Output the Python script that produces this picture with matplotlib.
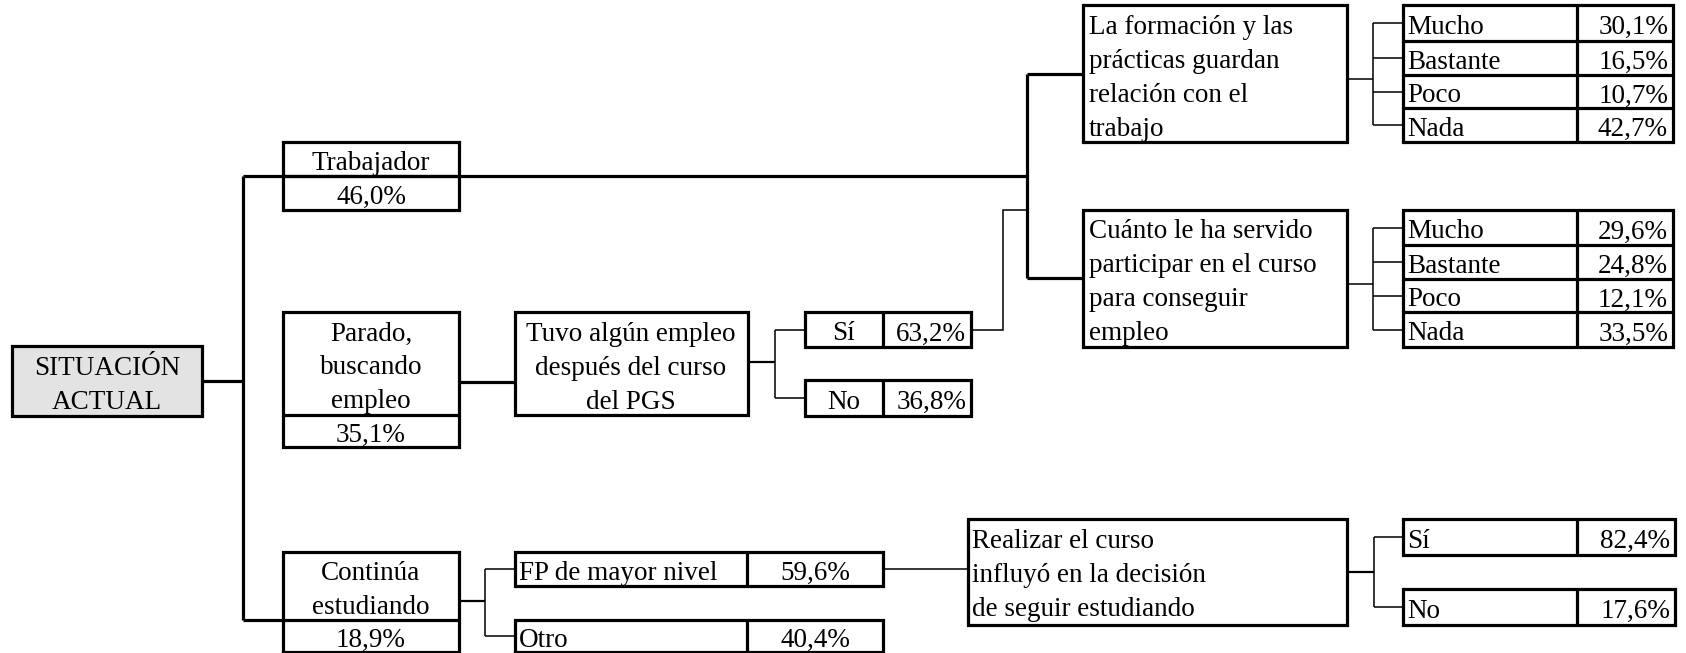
import matplotlib
matplotlib.use("Agg")
import matplotlib.pyplot as plt
from matplotlib.patches import Rectangle

# --- data ---
root_label = "SITUACIÓN\nACTUAL"
situacion_labels = ["Trabajador", "Parado,\nbuscando\nempleo", "Continúa\nestudiando"]
situacion_values = [46.0, 35.1, 18.9]

empleo_question = "Tuvo algún empleo\ndespués del curso\ndel PGS"
empleo_labels = ["Sí", "No"]
empleo_values = [63.2, 36.8]

trabajo_questions = ["La formación y las\nprácticas guardan\nrelación con el\ntrabajo",
                     "Cuánto le ha servido\nparticipar en el curso\npara conseguir\nempleo"]
escala_labels = ["Mucho", "Bastante", "Poco", "Nada"]
relacion_values = [30.1, 16.5, 10.7, 42.7]
servido_values = [29.6, 24.8, 12.1, 33.5]

estudio_labels = ["FP de mayor nivel", "Otro"]
estudio_values = [59.6, 40.4]

influyo_question = "Realizar el curso\ninfluyó en la decisión\nde seguir estudiando"
influyo_labels = ["Sí", "No"]
influyo_values = [82.4, 17.6]

plt.rcParams['font.family'] = ['Liberation Serif', 'DejaVu Serif']

FS = 19.5
THICK = 2.3
MID = 1.6
THIN = 1.1
STEP = 34
DY = 3.5  # text sits a little low in its cell


def pct(v):
    return f"{v:.1f}%".replace(".", ",")


def main():
    fig = plt.figure(figsize=(16.86, 6.539), dpi=100)
    ax = fig.add_axes([0, 0, 1, 1])
    ax.set_xlim(0, 1686)
    ax.set_ylim(654, 0)
    ax.axis('off')

    def seg(xs, ys, lw=THICK):
        ax.plot(xs, ys, color='black', lw=lw, solid_joinstyle='miter',
                solid_capstyle='butt', zorder=2)

    def box(x0, y0, x1, y1, lw=THICK, fc='none'):
        ax.add_patch(Rectangle((x0, y0), x1 - x0, y1 - y0, fc=fc, ec='black',
                               lw=lw, joinstyle='miter', zorder=2))

    def put(x, y, s, ha='center'):
        ax.text(x, y + DY, s, ha=ha, va='center', fontsize=FS, zorder=3)

    def txt(x, y, s, ha='center'):
        for i, line in enumerate(s.split('\n')):
            put(x, y + i * STEP, line, ha)

    def fork(x_from, y_from, x_mid, x_to, ys, lw_stem=MID, lw_branch=THIN):
        seg([x_from, x_mid], [y_from, y_from], lw_stem)
        seg([x_mid, x_mid], [min(ys), max(ys)], lw_branch)
        for y in ys:
            seg([x_mid, x_to], [y, y], lw_branch)

    def table(x0, xm, x1, edges, labels, values, label_ha='left', value_ha='right'):
        box(x0, edges[0], x1, edges[-1])
        for e in edges[1:-1]:
            seg([x0, x1], [e, e])
        seg([xm, xm], [edges[0], edges[-1]])
        for i, (lab, v) in enumerate(zip(labels, values)):
            yc = (edges[i] + edges[i + 1]) / 2
            lx = x0 + 4 if label_ha == 'left' else (x0 + xm) / 2
            put(lx, yc, lab, label_ha)
            vx = x1 - 5 if value_ha == 'right' else (xm + x1) / 2
            put(vx, yc, pct(v), value_ha)

    # root
    box(12, 347, 202, 417, fc='#e3e3e3')
    txt(107, 365, root_label)
    seg([202, 243], [382, 382])

    # trunk
    trunk_x = 243
    l1_x0, l1_x1 = 283, 459
    l1_boxes = [(143, 177, 211), (313, 416, 448), (553, 621, 653)]
    seg([trunk_x, trunk_x], [l1_boxes[0][1], l1_boxes[2][1]])
    l1_mid = (l1_x0 + l1_x1) / 2
    for (top, div, bot), lab, v in zip(l1_boxes, situacion_labels, situacion_values):
        box(l1_x0, top, l1_x1, bot)
        seg([l1_x0, l1_x1], [div, div])
        n = lab.count('\n') + 1
        txt(l1_mid, (top + div) / 2 - (n - 1) * STEP / 2, lab)
        put(l1_mid, (div + bot) / 2, pct(v))
    seg([trunk_x, l1_x0], [l1_boxes[2][1]] * 2)

    # trabajador line to the right-hand join
    join_x = 1027
    seg([trunk_x, join_x], [l1_boxes[0][1]] * 2)

    # parado -> tuvo algun empleo
    seg([l1_x1, 515], [383, 383])
    box(515, 313, 748, 416)
    txt(631, 331, empleo_question)
    sino_edges = [(313, 348), (381, 417)]
    ys = []
    for (t, b), lab, v in zip(sino_edges, empleo_labels, empleo_values):
        table(805, 883, 971, [t, b], [lab], [v], label_ha='center')
        ys.append((t + b) / 2)
    fork(748, 363, 775, 805, ys)
    # Si -> join
    seg([971, 1003, 1003, join_x], [ys[0], ys[0], 211, 211], THIN)

    # join to the two work questions
    q_boxes = [(6, 143), (211, 348)]
    seg([join_x, join_x], [75, 279])
    seg([join_x, 1083], [75, 75])
    seg([join_x, 1083], [279, 279])
    tab_edges = [[6, 42, 76, 109, 143], [211, 246, 280, 313, 348]]
    for (t, b), q, edges, vals in zip(q_boxes, trabajo_questions, tab_edges,
                                      [relacion_values, servido_values]):
        box(1083, t, 1347, b)
        centers = [(edges[i] + edges[i + 1]) / 2 for i in range(4)]
        txt(1089, centers[0], q, ha='left')
        table(1403, 1577, 1673, edges, escala_labels, vals)
        fork(1347, (t + b) / 2 + 5, 1373, 1403, centers, THIN, THIN)

    # continua estudiando
    est_edges = [(553, 587), (621, 653)]
    ys = []
    for (t, b), lab, v in zip(est_edges, estudio_labels, estudio_values):
        table(515, 747, 883, [t, b], [lab], [v], value_ha='center')
        ys.append((t + b) / 2)
    fork(l1_x1, 602, 485, 515, ys, MID, THIN)

    # FP -> influyo
    seg([883, 968], [ys[0], ys[0]], THIN)
    box(968, 520, 1347, 626)
    txt(972, 538, influyo_question, ha='left')
    inf_edges = [(520, 556), (590, 626)]
    ys = []
    for (t, b), lab, v in zip(inf_edges, influyo_labels, influyo_values):
        table(1403, 1577, 1675, [t, b], [lab], [v])
        ys.append((t + b) / 2)
    fork(1347, 573, 1374, 1403, ys, MID, THIN)

    fig.savefig("out.png", dpi=100, facecolor='white')


if __name__ == '__main__':
    main()
